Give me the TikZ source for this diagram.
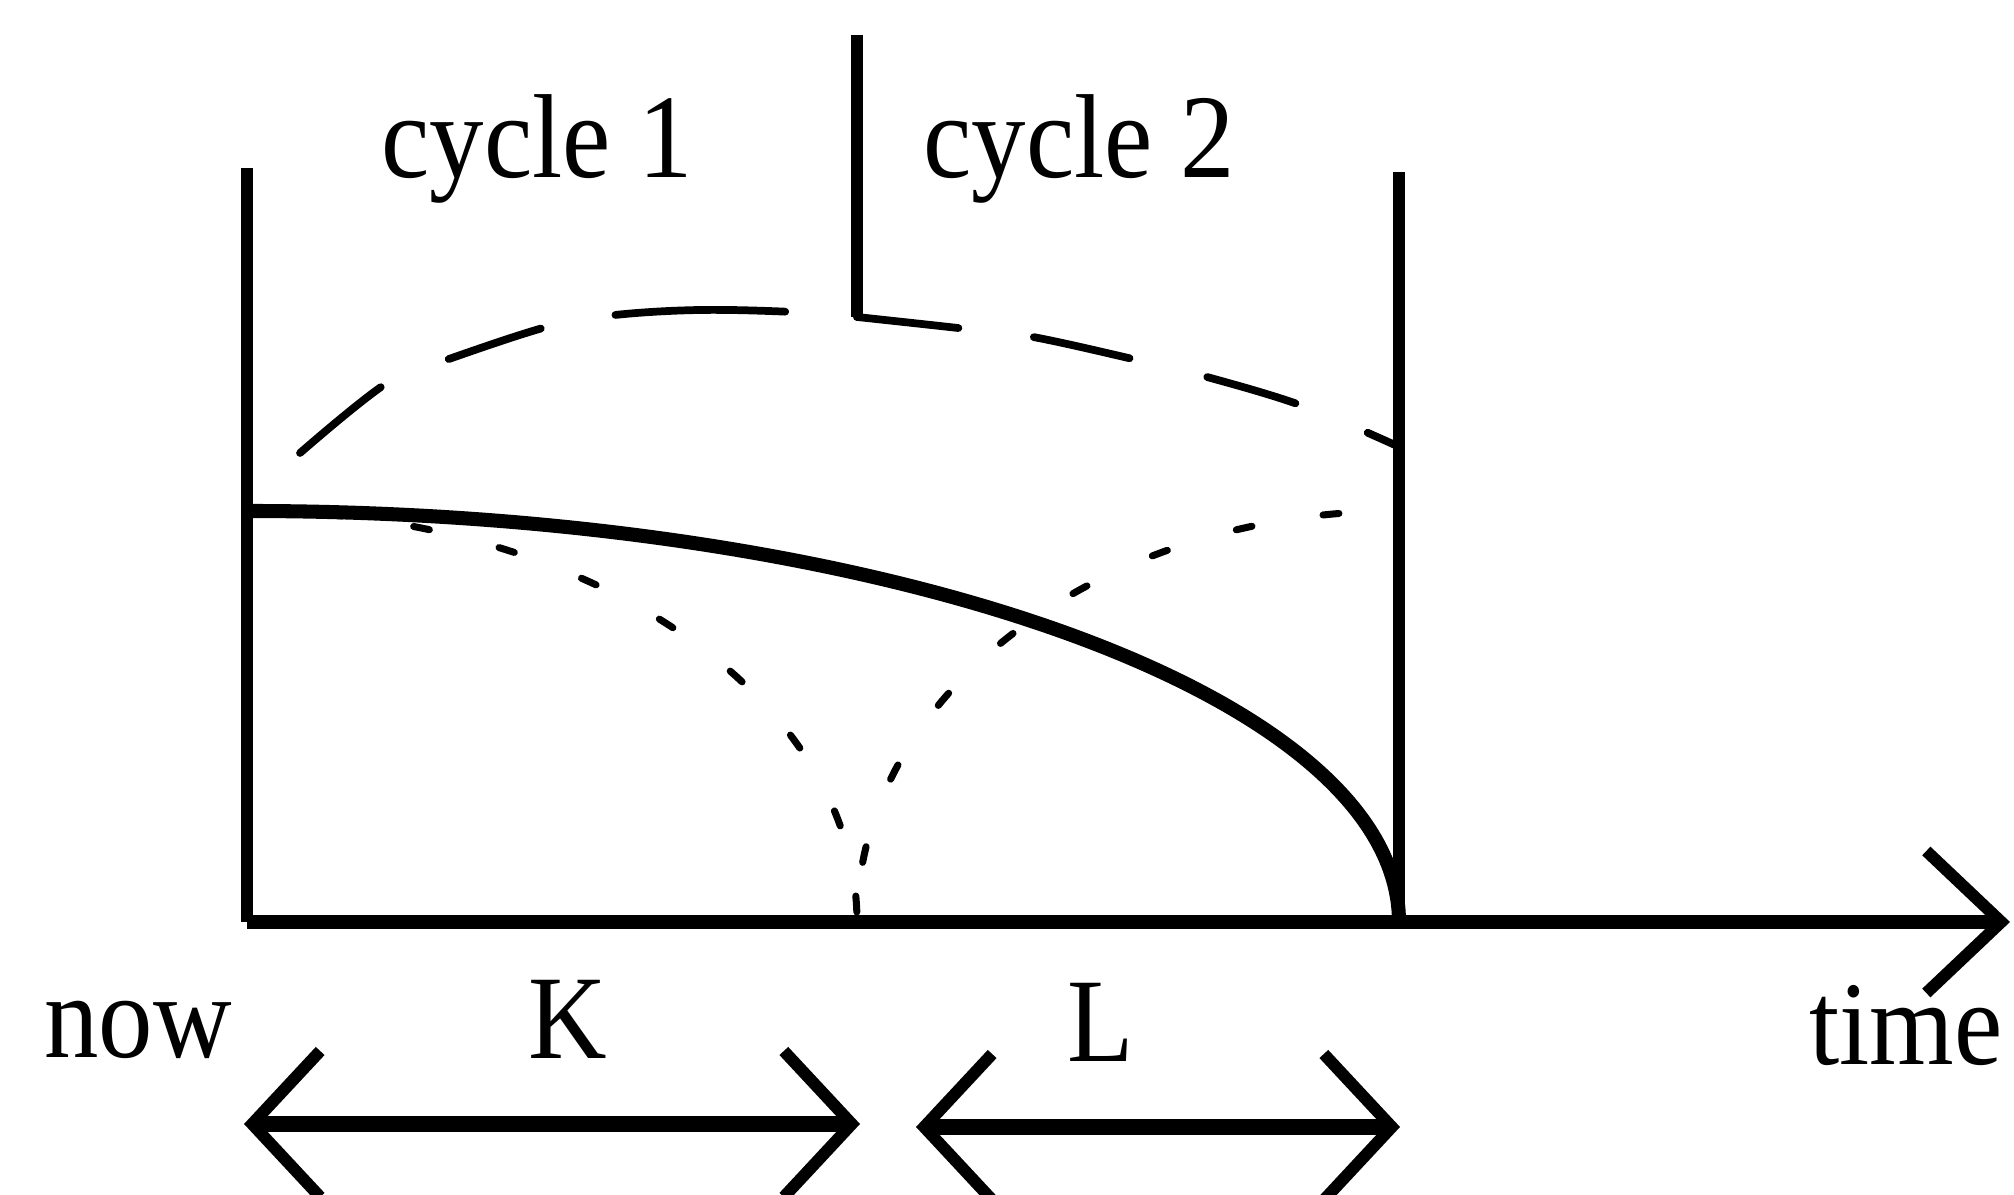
\documentclass[tikz,border=0pt]{standalone}
\usepackage{fontspec}
\setmainfont{Liberation Serif}
\usetikzlibrary{arrows.meta}

\tikzset{
  lbl/.style={font=\fontsize{34}{40}\selectfont, xscale=0.91, inner sep=0pt, anchor=base},
  frameline/.style={line width=3.3pt},
  solidcurve/.style={line width=4pt},
  dashedarc/.style={line width=2.2pt, line cap=round},
  dottedarc/.style={line width=2pt, line cap=round, dash pattern=on 0.16cm off 0.72cm},
  timearrow/.style={line width=4.2pt, -{Straight Barb[length=0.75cm, width=1.42cm, line width=3.4pt]}},
  spanarrow/.style={line width=4.4pt, {Straight Barb[length=0.68cm, width=1.46cm, line width=3.4pt]}-{Straight Barb[length=0.68cm, width=1.46cm, line width=3.4pt]}}
}

\begin{document}
\begin{tikzpicture}
  \useasboundingbox (0,0) rectangle (20.14,11.95);
  \clip (0,0) rectangle (20.14,11.95);

  % frame of the two cycles
  \coordinate (origin) at (2.47,2.73);
  \coordinate (lefttop) at (2.47,10.27);
  \coordinate (midtop) at (8.57,11.60);
  \coordinate (midknee) at (8.57,8.78);
  \coordinate (midfoot) at (8.57,2.73);
  \coordinate (righttop) at (13.99,10.23);
  \coordinate (rightfoot) at (13.99,2.73);
  \coordinate (timeend) at (20.10,2.73);
  \coordinate (curvestart) at (2.47,6.84);

  \draw[frameline] (origin) -- (lefttop);
  \draw[frameline] (midtop) -- (midknee);
  \draw[frameline] (rightfoot) -- (righttop);
  \draw[timearrow] (origin) -- (timeend);

  % dashed upper bound
  \draw[dashedarc, dash pattern=on 1.02cm off 0.76cm on 0.98cm off 0.8cm on 0.92cm off 0.78cm]
    plot[smooth, tension=0.6] coordinates {(8.57,8.78) (9.67,8.66) (10.33,8.58) (11.37,8.35) (12.07,8.18) (13.03,7.89) (13.95,7.50)};
  \draw[dashedarc, dash pattern=on 0cm off 0.72cm on 1.7cm off 0.76cm on 0.97cm off 0.74cm on 1.2cm off 1cm]
    plot[smooth, tension=0.6] coordinates {(8.57,8.78) (7.93,8.83) (7.00,8.85) (6.15,8.80) (5.50,8.69) (4.49,8.36) (3.87,8.12) (3.00,7.42)};

  % dotted partial curves
  \draw[dottedarc, dash phase=0.78cm] (midfoot) arc[start angle=0, end angle=90, x radius=6.10cm, y radius=4.11cm];
  \draw[dottedarc, dash phase=0.28cm] (midfoot) arc[start angle=180, end angle=90, x radius=5.42cm, y radius=4.11cm];

  % main curve
  \draw[solidcurve] (curvestart) arc[start angle=90, end angle=0, x radius=11.52cm, y radius=4.11cm];

  % spans
  \coordinate (kstart) at (2.44,0.71);
  \coordinate (kend) at (8.60,0.71);
  \coordinate (lstart) at (9.16,0.68);
  \coordinate (lend) at (14.00,0.68);
  \draw[spanarrow] (kstart) -- (kend);
  \draw[spanarrow] (lstart) -- (lend);

  \node[lbl] (cycleone) at (5.37,10.17) {cycle 1};
  \node[lbl] (cycletwo) at (10.79,10.17) {cycle 2};
  \node[lbl] (now) at (1.38,1.37) {now};
  \node[lbl] (klabel) at (5.68,1.36) {K};
  \node[lbl] (llabel) at (11.01,1.33) {L};
  \node[lbl] (time) at (19.06,1.30) {time};
\end{tikzpicture}
\end{document}
